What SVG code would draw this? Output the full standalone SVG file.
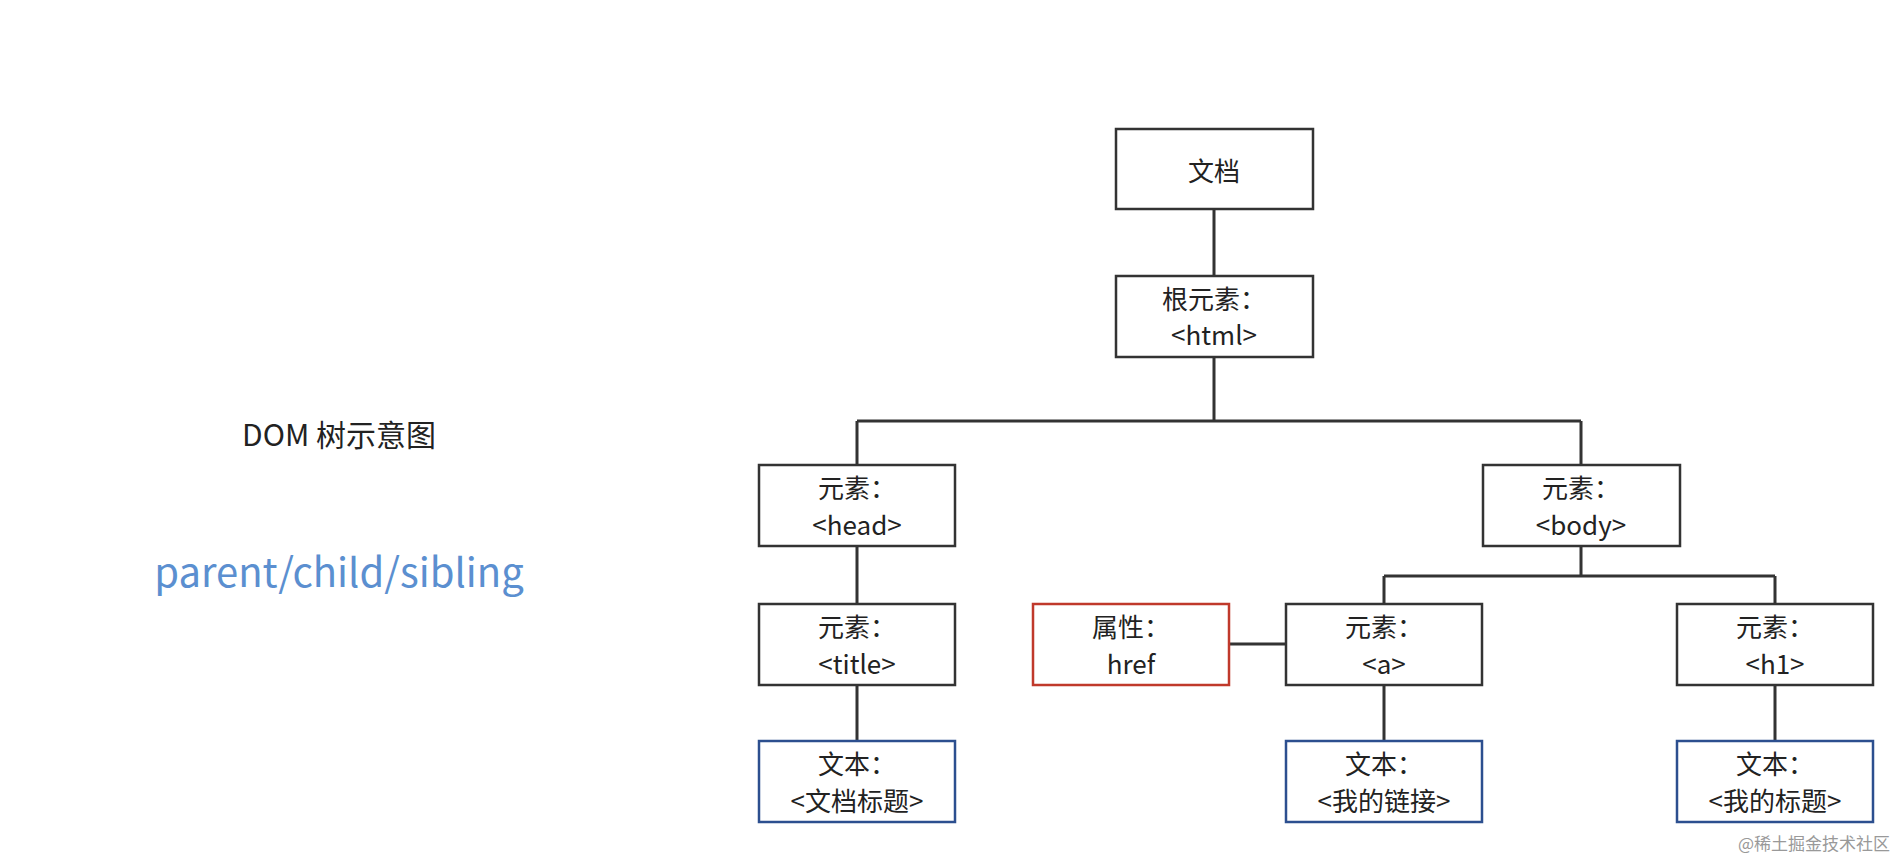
<svg xmlns="http://www.w3.org/2000/svg" width="1897" height="860" viewBox="0 0 1897 860">
<style>
.n{fill:#fff;stroke:#333;stroke-width:2.5}
.r{fill:#fff;stroke:#c0392b;stroke-width:2.5}
.b{fill:#fff;stroke:#2c4f8f;stroke-width:2.5}
.t{font-family:"Noto Sans CJK SC","Noto Sans",sans-serif;font-size:26px;fill:#222;text-anchor:middle}
.c{stroke:#333;stroke-width:3;fill:none}
</style>
<rect width="1897" height="860" fill="#fff"/>
<text x="339" y="446" font-family="Noto Sans CJK SC, Noto Sans, sans-serif" font-size="30" fill="#222" text-anchor="middle">DOM 树示意图</text>
<text x="339" y="587" font-family="Noto Sans CJK SC, Noto Sans, sans-serif" font-size="40" fill="#5b8fd0" text-anchor="middle">parent/child/sibling</text>
<g id="connectors">
<path class="c" d="M1214 209V276M1214 357V421M857 421H1581M857 421V465M1581 421V465M857 546V604M857 685V741M1581 546V576M1384 576H1775M1384 576V604M1775 576V604M1229 644H1286M1384 685V741M1775 685V741"/>
</g>
<g id="doc"><rect class="n" x="1116" y="129" width="197" height="80"/><text class="t" x="1214" y="181" font-size="34">文档</text></g>
<g id="html"><rect class="n" x="1116" y="276" width="197" height="81"/><text class="t" x="1214" y="309">根元素：</text><text class="t" x="1214" y="345">&lt;html&gt;</text></g>
<g id="head"><rect class="n" x="759" y="465" width="196" height="81"/><text class="t" x="857" y="498">元素：</text><text class="t" x="857" y="535">&lt;head&gt;</text></g>
<g id="body"><rect class="n" x="1483" y="465" width="197" height="81"/><text class="t" x="1581" y="498">元素：</text><text class="t" x="1581" y="535">&lt;body&gt;</text></g>
<g id="title"><rect class="n" x="759" y="604" width="196" height="81"/><text class="t" x="857" y="637">元素：</text><text class="t" x="857" y="674">&lt;title&gt;</text></g>
<g id="href"><rect class="r" x="1033" y="604" width="196" height="81"/><text class="t" x="1131" y="637">属性：</text><text class="t" x="1131" y="674">href</text></g>
<g id="a"><rect class="n" x="1286" y="604" width="196" height="81"/><text class="t" x="1384" y="637">元素：</text><text class="t" x="1384" y="674">&lt;a&gt;</text></g>
<g id="h1"><rect class="n" x="1677" y="604" width="196" height="81"/><text class="t" x="1775" y="637">元素：</text><text class="t" x="1775" y="674">&lt;h1&gt;</text></g>
<g id="text1"><rect class="b" x="759" y="741" width="196" height="81"/><text class="t" x="857" y="774">文本：</text><text class="t" x="857" y="811">&lt;文档标题&gt;</text></g>
<g id="text2"><rect class="b" x="1286" y="741" width="196" height="81"/><text class="t" x="1384" y="774">文本：</text><text class="t" x="1384" y="811">&lt;我的链接&gt;</text></g>
<g id="text3"><rect class="b" x="1677" y="741" width="196" height="81"/><text class="t" x="1775" y="774">文本：</text><text class="t" x="1775" y="811">&lt;我的标题&gt;</text></g>
<text x="1890" y="850" font-family="Noto Sans CJK SC, sans-serif" font-size="17" fill="#999" text-anchor="end">@稀土掘金技术社区</text>
</svg>
